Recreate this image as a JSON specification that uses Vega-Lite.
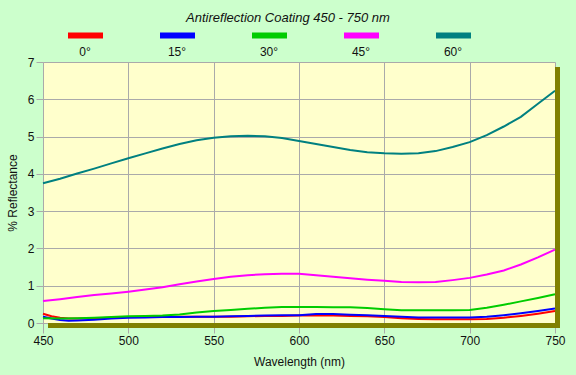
{
  "$schema": "https://vega.github.io/schema/vega-lite/v6.json",
  "width": 512,
  "height": 261,
  "autosize": {"type": "none"},
  "padding": {"left": 43, "top": 62, "right": 21, "bottom": 52},
  "background": "#ccffcc",
  "title": {"text": "Antireflection Coating 450 - 750 nm", "font": "Liberation Sans", "fontSize": 13, "fontStyle": "italic", "fontWeight": "normal", "color": "#111111", "dx": -11, "offset": 6},
  "config": {
    "view": {"fill": "#ffffcc", "stroke": null},
    "axis": {"gridColor": "#aaaaaa", "domainColor": "#aaaaaa", "tickColor": "#aaaaaa", "labelFont": "Liberation Sans", "labelFontSize": 12, "labelColor": "#111111", "titleFont": "Liberation Sans", "titleFontSize": 12, "titleFontWeight": "normal", "titleColor": "#111111", "labelFlush": false},
    "axisX": {"tickSize": 10, "labelPadding": 2, "titlePadding": 10, "tickCount": 20},
    "axisY": {"tickSize": 7, "labelPadding": 2, "titlePadding": 8, "labelOverlap": false, "tickCount": 20}
  },
  "data": {"values": [
    {"wl":450,"a":"0°","r":0.25},{"wl":455,"a":"0°","r":0.18},{"wl":460,"a":"0°","r":0.14},{"wl":465,"a":"0°","r":0.12},{"wl":470,"a":"0°","r":0.12},{"wl":480,"a":"0°","r":0.13},{"wl":490,"a":"0°","r":0.14},{"wl":500,"a":"0°","r":0.16},{"wl":510,"a":"0°","r":0.17},{"wl":520,"a":"0°","r":0.17},{"wl":530,"a":"0°","r":0.17},{"wl":540,"a":"0°","r":0.17},{"wl":550,"a":"0°","r":0.17},{"wl":560,"a":"0°","r":0.17},{"wl":570,"a":"0°","r":0.18},{"wl":580,"a":"0°","r":0.19},{"wl":590,"a":"0°","r":0.19},{"wl":600,"a":"0°","r":0.2},{"wl":610,"a":"0°","r":0.2},{"wl":620,"a":"0°","r":0.2},{"wl":630,"a":"0°","r":0.19},{"wl":640,"a":"0°","r":0.18},{"wl":650,"a":"0°","r":0.16},{"wl":660,"a":"0°","r":0.13},{"wl":670,"a":"0°","r":0.11},{"wl":680,"a":"0°","r":0.1},{"wl":690,"a":"0°","r":0.1},{"wl":700,"a":"0°","r":0.1},{"wl":710,"a":"0°","r":0.11},{"wl":720,"a":"0°","r":0.14},{"wl":730,"a":"0°","r":0.19},{"wl":740,"a":"0°","r":0.25},{"wl":750,"a":"0°","r":0.32},
    {"wl":450,"a":"15°","r":0.17},{"wl":455,"a":"15°","r":0.12},{"wl":460,"a":"15°","r":0.08},{"wl":465,"a":"15°","r":0.06},{"wl":470,"a":"15°","r":0.07},{"wl":480,"a":"15°","r":0.09},{"wl":490,"a":"15°","r":0.12},{"wl":500,"a":"15°","r":0.14},{"wl":510,"a":"15°","r":0.15},{"wl":520,"a":"15°","r":0.16},{"wl":530,"a":"15°","r":0.16},{"wl":540,"a":"15°","r":0.17},{"wl":550,"a":"15°","r":0.17},{"wl":560,"a":"15°","r":0.18},{"wl":570,"a":"15°","r":0.19},{"wl":580,"a":"15°","r":0.2},{"wl":590,"a":"15°","r":0.21},{"wl":600,"a":"15°","r":0.21},{"wl":610,"a":"15°","r":0.24},{"wl":620,"a":"15°","r":0.24},{"wl":630,"a":"15°","r":0.22},{"wl":640,"a":"15°","r":0.21},{"wl":650,"a":"15°","r":0.19},{"wl":660,"a":"15°","r":0.17},{"wl":670,"a":"15°","r":0.15},{"wl":680,"a":"15°","r":0.15},{"wl":690,"a":"15°","r":0.15},{"wl":700,"a":"15°","r":0.15},{"wl":710,"a":"15°","r":0.17},{"wl":720,"a":"15°","r":0.21},{"wl":730,"a":"15°","r":0.26},{"wl":740,"a":"15°","r":0.32},{"wl":750,"a":"15°","r":0.39},
    {"wl":450,"a":"30°","r":0.13},{"wl":460,"a":"30°","r":0.12},{"wl":470,"a":"30°","r":0.13},{"wl":480,"a":"30°","r":0.14},{"wl":490,"a":"30°","r":0.16},{"wl":500,"a":"30°","r":0.18},{"wl":510,"a":"30°","r":0.19},{"wl":520,"a":"30°","r":0.2},{"wl":530,"a":"30°","r":0.23},{"wl":540,"a":"30°","r":0.28},{"wl":550,"a":"30°","r":0.32},{"wl":560,"a":"30°","r":0.35},{"wl":570,"a":"30°","r":0.38},{"wl":580,"a":"30°","r":0.41},{"wl":590,"a":"30°","r":0.43},{"wl":600,"a":"30°","r":0.43},{"wl":610,"a":"30°","r":0.43},{"wl":620,"a":"30°","r":0.42},{"wl":630,"a":"30°","r":0.42},{"wl":640,"a":"30°","r":0.4},{"wl":650,"a":"30°","r":0.37},{"wl":660,"a":"30°","r":0.34},{"wl":670,"a":"30°","r":0.34},{"wl":680,"a":"30°","r":0.34},{"wl":690,"a":"30°","r":0.34},{"wl":700,"a":"30°","r":0.35},{"wl":710,"a":"30°","r":0.41},{"wl":720,"a":"30°","r":0.49},{"wl":730,"a":"30°","r":0.58},{"wl":740,"a":"30°","r":0.67},{"wl":750,"a":"30°","r":0.77},
    {"wl":450,"a":"45°","r":0.59},{"wl":460,"a":"45°","r":0.64},{"wl":470,"a":"45°","r":0.7},{"wl":480,"a":"45°","r":0.75},{"wl":490,"a":"45°","r":0.79},{"wl":500,"a":"45°","r":0.84},{"wl":510,"a":"45°","r":0.9},{"wl":520,"a":"45°","r":0.96},{"wl":530,"a":"45°","r":1.04},{"wl":540,"a":"45°","r":1.11},{"wl":550,"a":"45°","r":1.18},{"wl":560,"a":"45°","r":1.24},{"wl":570,"a":"45°","r":1.28},{"wl":580,"a":"45°","r":1.31},{"wl":590,"a":"45°","r":1.32},{"wl":600,"a":"45°","r":1.32},{"wl":610,"a":"45°","r":1.28},{"wl":620,"a":"45°","r":1.24},{"wl":630,"a":"45°","r":1.2},{"wl":640,"a":"45°","r":1.16},{"wl":650,"a":"45°","r":1.13},{"wl":660,"a":"45°","r":1.1},{"wl":670,"a":"45°","r":1.09},{"wl":680,"a":"45°","r":1.1},{"wl":690,"a":"45°","r":1.15},{"wl":700,"a":"45°","r":1.21},{"wl":710,"a":"45°","r":1.3},{"wl":720,"a":"45°","r":1.41},{"wl":730,"a":"45°","r":1.57},{"wl":740,"a":"45°","r":1.76},{"wl":750,"a":"45°","r":1.97},
    {"wl":450,"a":"60°","r":3.75},{"wl":460,"a":"60°","r":3.87},{"wl":470,"a":"60°","r":4.01},{"wl":480,"a":"60°","r":4.14},{"wl":490,"a":"60°","r":4.28},{"wl":500,"a":"60°","r":4.42},{"wl":510,"a":"60°","r":4.55},{"wl":520,"a":"60°","r":4.68},{"wl":530,"a":"60°","r":4.8},{"wl":540,"a":"60°","r":4.9},{"wl":550,"a":"60°","r":4.97},{"wl":560,"a":"60°","r":5.01},{"wl":570,"a":"60°","r":5.02},{"wl":580,"a":"60°","r":5.01},{"wl":590,"a":"60°","r":4.96},{"wl":600,"a":"60°","r":4.88},{"wl":610,"a":"60°","r":4.8},{"wl":620,"a":"60°","r":4.72},{"wl":630,"a":"60°","r":4.64},{"wl":640,"a":"60°","r":4.58},{"wl":650,"a":"60°","r":4.55},{"wl":660,"a":"60°","r":4.54},{"wl":670,"a":"60°","r":4.55},{"wl":680,"a":"60°","r":4.61},{"wl":690,"a":"60°","r":4.72},{"wl":700,"a":"60°","r":4.85},{"wl":710,"a":"60°","r":5.04},{"wl":720,"a":"60°","r":5.27},{"wl":730,"a":"60°","r":5.53},{"wl":740,"a":"60°","r":5.88},{"wl":750,"a":"60°","r":6.23}
  ]},
  "layer": [
    {
      "mark": {"type": "line", "strokeWidth": 2},
      "encoding": {
        "x": {"field": "wl", "type": "quantitative", "scale": {"domain": [450, 750], "nice": false, "zero": false},
              "axis": {"values": [450, 500, 550, 600, 650, 700, 750], "title": "Wavelength (nm)", "tickCount": 20, "format": "d"}},
        "y": {"field": "r", "type": "quantitative", "scale": {"domain": [0, 7], "nice": false, "zero": false},
              "axis": {"values": [0, 1, 2, 3, 4, 5, 6, 7], "title": "% Reflectance", "tickCount": 20, "format": "d"}},
        "color": {"field": "a", "type": "nominal", "sort": ["0°", "15°", "30°", "45°", "60°"],
                  "scale": {"domain": ["0°", "15°", "30°", "45°", "60°"], "range": ["#ff0000", "#0000ff", "#00cc00", "#ff00ff", "#008080"]},
                  "legend": {"orient": "none", "legendX": 22, "legendY": -31, "direction": "horizontal", "columns": 5, "title": null,
                             "symbolType": "M-1,-0.93H1", "symbolSize": 1225, "symbolStrokeWidth": 6,
                             "labelOffset": -21, "labelAlign": "center", "columnPadding": 33,
                             "labelFont": "Liberation Sans", "labelFontSize": 12, "labelColor": "#111111"}}
      }
    },
    {
      "mark": {"type": "rect", "color": "#808000"},
      "encoding": {
        "x": {"datum": 750, "type": "quantitative", "axis": {"values": [450, 500, 550, 600, 650, 700, 750], "title": "Wavelength (nm)", "tickCount": 20, "format": "d"}},
        "x2": {"datum": 752.93},
        "y": {"datum": -0.134, "type": "quantitative", "axis": {"values": [0, 1, 2, 3, 4, 5, 6, 7], "title": "% Reflectance", "tickCount": 20, "format": "d"}},
        "y2": {"datum": 6.866}
      }
    },
    {
      "mark": {"type": "rect", "color": "#808000"},
      "encoding": {
        "x": {"datum": 452.93, "type": "quantitative", "axis": {"values": [450, 500, 550, 600, 650, 700, 750], "title": "Wavelength (nm)", "tickCount": 20, "format": "d"}},
        "x2": {"datum": 752.93},
        "y": {"datum": -0.134, "type": "quantitative", "axis": {"values": [0, 1, 2, 3, 4, 5, 6, 7], "title": "% Reflectance", "tickCount": 20, "format": "d"}},
        "y2": {"datum": 0}
      }
    }
  ]
}
